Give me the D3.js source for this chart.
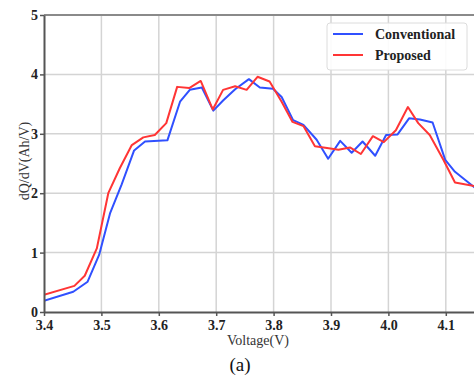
<!DOCTYPE html>
<html>
<head>
<meta charset="utf-8">
<script src="https://cdn.jsdelivr.net/npm/d3@7"></script>
<style>
  body { margin: 0; background: #fff; }
  svg { display: block; font-family: "Liberation Serif", "Times New Roman", serif; }
</style>
</head>
<body>
<div id="svgContainer"></div>
<script>
const xTicks = [3.4, 3.5, 3.6, 3.7, 3.8, 3.9, 4.0, 4.1];
const yTicks = [0, 1, 2, 3, 4, 5];

const convV = [3.400, 3.451, 3.476, 3.496, 3.515, 3.535, 3.557, 3.576, 3.615, 3.637,
  3.654, 3.675, 3.695, 3.712, 3.733, 3.757, 3.776, 3.799, 3.814, 3.834,
  3.852, 3.875, 3.895, 3.916, 3.936, 3.955, 3.977, 3.996, 4.016, 4.036,
  4.055, 4.077, 4.099, 4.116, 4.160];
const convQ = [0.19, 0.34, 0.51, 0.96, 1.66, 2.14, 2.72, 2.87, 2.89, 3.54,
  3.74, 3.78, 3.39, 3.56, 3.75, 3.92, 3.78, 3.76, 3.62, 3.23,
  3.15, 2.90, 2.58, 2.88, 2.68, 2.87, 2.63, 2.98, 2.99, 3.26,
  3.24, 3.19, 2.56, 2.36, 2.02];

const propV = [3.400, 3.453, 3.471, 3.492, 3.512, 3.532, 3.553, 3.573, 3.593, 3.613,
  3.632, 3.653, 3.673, 3.694, 3.712, 3.733, 3.753, 3.772, 3.793, 3.814,
  3.833, 3.852, 3.872, 3.893, 3.913, 3.933, 3.952, 3.973, 3.992, 4.013,
  4.034, 4.052, 4.072, 4.096, 4.116, 4.160];
const propQ = [0.29, 0.44, 0.61, 1.07, 2.00, 2.42, 2.81, 2.94, 2.98, 3.18,
  3.79, 3.77, 3.89, 3.41, 3.74, 3.80, 3.74, 3.96, 3.88, 3.54,
  3.20, 3.13, 2.79, 2.76, 2.73, 2.77, 2.66, 2.96, 2.86, 3.06,
  3.45, 3.18, 2.98, 2.56, 2.18, 2.10];

const series = [
  { name: "Conventional", color: "#3050ff", v: convV, q: convQ },
  { name: "Proposed", color: "#ff3535", v: propV, q: propQ },
];

const width = 474;
const height = 379;
const plotLeft = 44, plotRight = 474.5, plotTop = 15, plotBottom = 312;

const svg = d3.select("#svgContainer")
  .append("svg")
  .attr("width", width)
  .attr("height", height);

const x = d3.scaleLinear().domain([3.4, 4.15]).range([plotLeft, plotRight]);
const y = d3.scaleLinear().domain([0, 5]).range([plotBottom, plotTop]);

// grid
svg.append("g")
  .selectAll("line")
  .data(xTicks.slice(1))
  .enter()
  .append("line")
  .attr("x1", (d) => x(d)).attr("x2", (d) => x(d))
  .attr("y1", plotTop).attr("y2", plotBottom)
  .attr("stroke", "#d4d4d4").attr("stroke-width", 1.5);

svg.append("g")
  .selectAll("line")
  .data(yTicks.slice(1, -1))
  .enter()
  .append("line")
  .attr("x1", plotLeft).attr("x2", plotRight)
  .attr("y1", (d) => y(d)).attr("y2", (d) => y(d))
  .attr("stroke", "#d4d4d4").attr("stroke-width", 1.5);

// top spine
svg.append("line")
  .attr("x1", plotLeft).attr("x2", plotRight)
  .attr("y1", plotTop).attr("y2", plotTop)
  .attr("stroke", "#8a8a8a").attr("stroke-width", 2);

// lines
svg.append("clipPath").attr("id", "plotClip")
  .append("rect")
  .attr("x", plotLeft).attr("y", plotTop)
  .attr("width", plotRight - plotLeft).attr("height", plotBottom - plotTop);

const line = d3.line()
  .x((d) => x(d[0]))
  .y((d) => y(d[1]));

svg.append("g")
  .attr("clip-path", "url(#plotClip)")
  .selectAll("path")
  .data(series)
  .enter()
  .append("path")
  .attr("d", (s) => line(d3.zip(s.v, s.q)))
  .attr("fill", "none")
  .attr("stroke", (s) => s.color)
  .attr("stroke-width", 2)
  .attr("stroke-linejoin", "round");

// axes
const xAxis = svg.append("g")
  .attr("transform", `translate(0,${plotBottom})`)
  .call(d3.axisBottom(x).tickValues(xTicks).tickFormat(d3.format(".1f")).tickSize(4).tickSizeOuter(0));

const yAxis = svg.append("g")
  .attr("transform", `translate(${plotLeft},0)`)
  .call(d3.axisLeft(y).tickValues(yTicks).tickFormat(d3.format("d")).tickSize(4).tickSizeOuter(0));

[xAxis, yAxis].forEach((a) => {
  a.attr("font-family", null);
  a.select(".domain").attr("stroke", "#555").attr("stroke-width", 2);
  a.selectAll(".tick line").attr("stroke", "#555").attr("stroke-width", 1.5);
  a.selectAll(".tick text")
    .attr("fill", "#222")
    .style("font-family", "'Liberation Serif', serif")
    .style("font-size", "14px")
    .style("font-weight", "bold");
});
xAxis.selectAll(".tick text").attr("dy", "0.8em");
yAxis.selectAll(".tick text").attr("x", -6);

// axis titles
svg.append("text")
  .attr("x", 258).attr("y", 345)
  .attr("text-anchor", "middle")
  .style("font-size", "14px")
  .attr("fill", "#333")
  .text("Voltage(V)");

svg.append("text")
  .attr("transform", "translate(29,161) rotate(-90)")
  .attr("text-anchor", "middle")
  .style("font-size", "14px")
  .attr("fill", "#333")
  .text("dQ/dV(Ah/V)");

svg.append("text")
  .attr("x", 240).attr("y", 371)
  .attr("text-anchor", "middle")
  .style("font-size", "19px")
  .attr("fill", "#111")
  .text("(a)");

// legend
const legend = svg.append("g").attr("transform", "translate(327,23)");
legend.append("rect")
  .attr("width", 140).attr("height", 47)
  .attr("rx", 3)
  .attr("fill", "#fff").attr("fill-opacity", 0.9)
  .attr("stroke", "#dcdcdc").attr("stroke-width", 1);

const item = legend.selectAll("g.item")
  .data(series)
  .enter()
  .append("g")
  .attr("transform", (d, i) => `translate(0,${11 + i * 21})`);

item.append("line")
  .attr("x1", 6).attr("x2", 36)
  .attr("stroke", (d) => d.color).attr("stroke-width", 2);

item.append("text")
  .attr("x", 48).attr("dy", "0.35em")
  .style("font-size", "14px")
  .style("font-weight", "bold")
  .attr("fill", "#222")
  .text((d) => d.name);
</script>
</body>
</html>
